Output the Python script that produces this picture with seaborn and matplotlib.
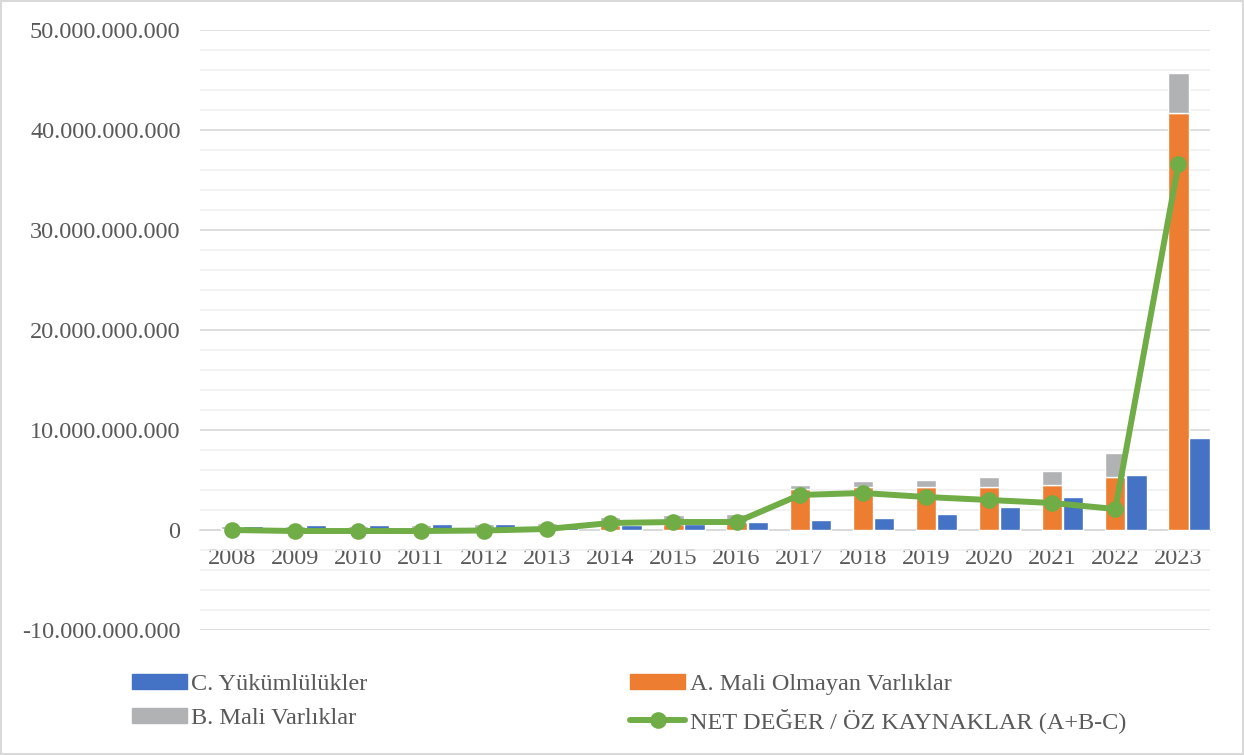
import numpy as np
import pandas as pd
import matplotlib
matplotlib.use("Agg")
import matplotlib.pyplot as plt
from matplotlib.ticker import FuncFormatter, MultipleLocator
from matplotlib.lines import Line2D
from matplotlib.patches import Patch, Rectangle
import seaborn as sns

# values in TL (billions * 1e9)
years = [str(y) for y in range(2008, 2024)]
a_non_financial = np.array([0.10, 0.10, 0.10, 0.10, 0.15, 0.20, 0.50, 0.60, 0.80,
                            4.10, 4.30, 4.30, 4.30, 4.50, 5.30, 41.70]) * 1e9
b_financial = np.array([0.30, 0.30, 0.35, 0.40, 0.45, 0.50, 0.80, 0.90, 0.80,
                        0.40, 0.60, 0.70, 1.00, 1.40, 2.40, 4.00]) * 1e9
c_liabilities = np.array([0.40, 0.50, 0.55, 0.60, 0.60, 0.60, 0.50, 0.60, 0.80,
                          1.00, 1.20, 1.60, 2.30, 3.30, 5.50, 9.20]) * 1e9
net_worth = np.array([0.00, -0.10, -0.10, -0.10, -0.05, 0.10, 0.70, 0.80, 0.80,
                      3.50, 3.70, 3.30, 3.00, 2.70, 2.10, 36.60]) * 1e9

labels = ["C. Yükümlülükler", "A. Mali Olmayan Varlıklar",
          "B. Mali Varlıklar", "NET DEĞER / ÖZ KAYNAKLAR (A+B-C)"]

BLUE, ORANGE, GRAY, GREEN = "#4472C4", "#ED7D31", "#B1B2B4", "#70AD47"
TXT = "#595959"

sns.set_theme(style="white")
plt.rcParams["font.family"] = ["Liberation Serif", "DejaVu Serif"]

df = pd.DataFrame({"year": years, "x": np.arange(len(years)), "net": net_worth})

fig = plt.figure(figsize=(12.44, 7.55), dpi=100)
ax = fig.add_axes([200 / 1244, 1 - 630 / 755, 1010 / 1244, 600 / 755])

# gridlines
ax.set_ylim(-10e9, 50e9)
ax.yaxis.set_major_locator(MultipleLocator(10e9))
ax.yaxis.set_minor_locator(MultipleLocator(2e9))
ax.grid(which="major", axis="y", color="#D9D9D9", lw=1.2, zorder=0)
ax.grid(which="minor", axis="y", color="#F0F0F0", lw=1.2, zorder=0)
ax.set_axisbelow(True)

w = 0.32
x = df["x"].to_numpy()
ax.bar(x, a_non_financial, width=w, color=ORANGE, zorder=2)
ax.bar(x, b_financial, width=w, bottom=a_non_financial, color=GRAY, zorder=2)
ax.bar(x + 0.335, c_liabilities, width=w, color=BLUE, zorder=2)

sns.lineplot(data=df, x="x", y="net", ax=ax, color=GREEN, lw=4.3,
             marker="o", markersize=12, markeredgewidth=0, zorder=4)

ax.set_xlim(-0.5, len(years) - 0.5)
ax.set_xticks(x)
ax.set_xticklabels(years)
ax.set_xlabel("")
ax.set_ylabel("")

for s in ["top", "right", "left"]:
    ax.spines[s].set_visible(False)
ax.spines["bottom"].set_position(("data", 0))
ax.spines["bottom"].set_color("#D9D9D9")
ax.spines["bottom"].set_linewidth(1.2)
ax.spines["bottom"].set_zorder(1)

ax.yaxis.set_major_formatter(FuncFormatter(lambda v, p: f"{int(round(v)):,}".replace(",", ".")))
ax.tick_params(axis="y", which="both", length=0, pad=14, labelsize=17.5, labelcolor=TXT)
ax.tick_params(axis="x", length=0, pad=13, labelsize=17.5, labelcolor=TXT)

handles = [Patch(color=BLUE), Patch(color=GRAY), Patch(color=ORANGE),
           Line2D([], [], color=GREEN, lw=4.3, marker="o", markersize=12, markeredgewidth=0)]
leg_labels = [labels[0], labels[2], labels[1], labels[3]]
leg = fig.legend(handles, leg_labels, ncol=2, loc="upper left",
                 bbox_to_anchor=(110 / 1244, 1 - 652 / 755), frameon=False,
                 fontsize=17.5, labelcolor=TXT, handlelength=2.25, handleheight=0.55,
                 handletextpad=0.2, columnspacing=10.8, labelspacing=0.55)

# light chart border
fig.patches.append(Rectangle((0.001, 0.001), 0.998, 0.998, transform=fig.transFigure,
                             fill=False, edgecolor="#D9D9D9", lw=1.5))

fig.savefig("out.png", dpi=100)
